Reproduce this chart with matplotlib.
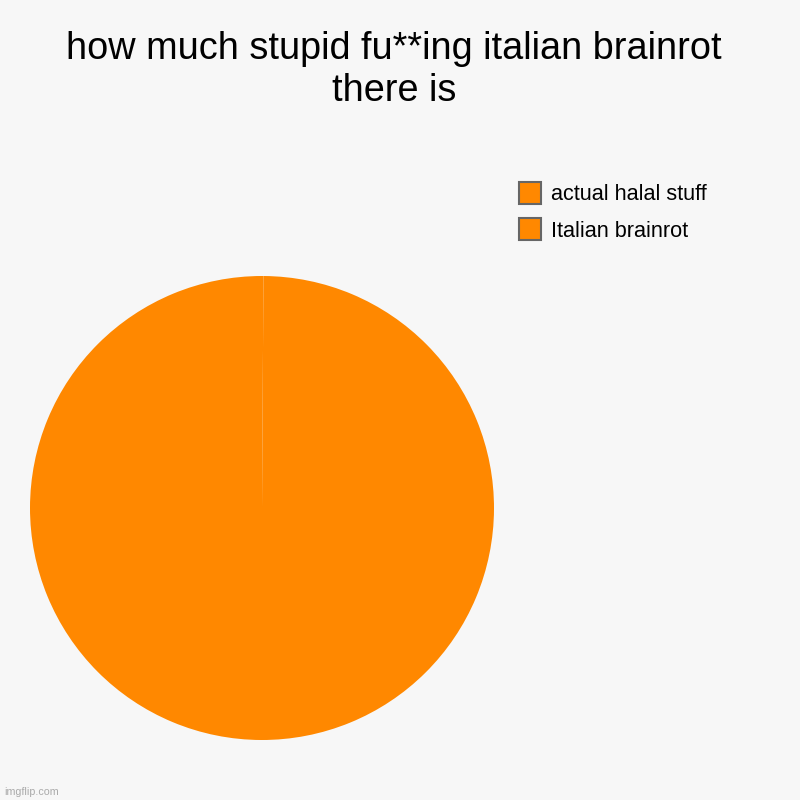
import matplotlib
matplotlib.use("Agg")
import matplotlib.pyplot as plt
from matplotlib.patches import Patch

plt.rcParams['font.family'] = ['Liberation Sans', 'DejaVu Sans']

# Chart data
title = "how much stupid fu**ing italian brainrot\nthere is"
labels = ["actual halal stuff", "Italian brainrot"]
values = [0.1, 99.9]
colors = ["#ff8800", "#ff8800"]

BG = "#f7f7f7"

fig = plt.figure(figsize=(8, 8), dpi=100, facecolor=BG)

fig.text(0.4925, 0.961, title, ha='center', va='top', fontsize=27.3,
         linespacing=1.2, color='black')

ax = fig.add_axes([0.0375, 0.075, 0.58, 0.58])
ax.set_facecolor(BG)
ax.pie(values, colors=colors, startangle=90, counterclock=False,
       wedgeprops=dict(linewidth=0))
ax.set_xlim(-1, 1)
ax.set_ylim(-1, 1)
ax.set_aspect('equal')
ax.axis('off')

handles = [Patch(facecolor=c, edgecolor='#666666', linewidth=1.5) for c in colors]
fig.legend(handles, labels, loc='upper left', bbox_to_anchor=(0.6375, 0.7835),
           frameon=False, fontsize=15.6, handlelength=1.05, handleheight=1.2,
           handletextpad=0.45, labelspacing=0.6, borderaxespad=0)

fig.text(0.005, 0.004, "imgflip.com", fontsize=7.7, color='#aaaaaa',
         ha='left', va='bottom')

fig.savefig("out.png", dpi=100, facecolor=BG)
